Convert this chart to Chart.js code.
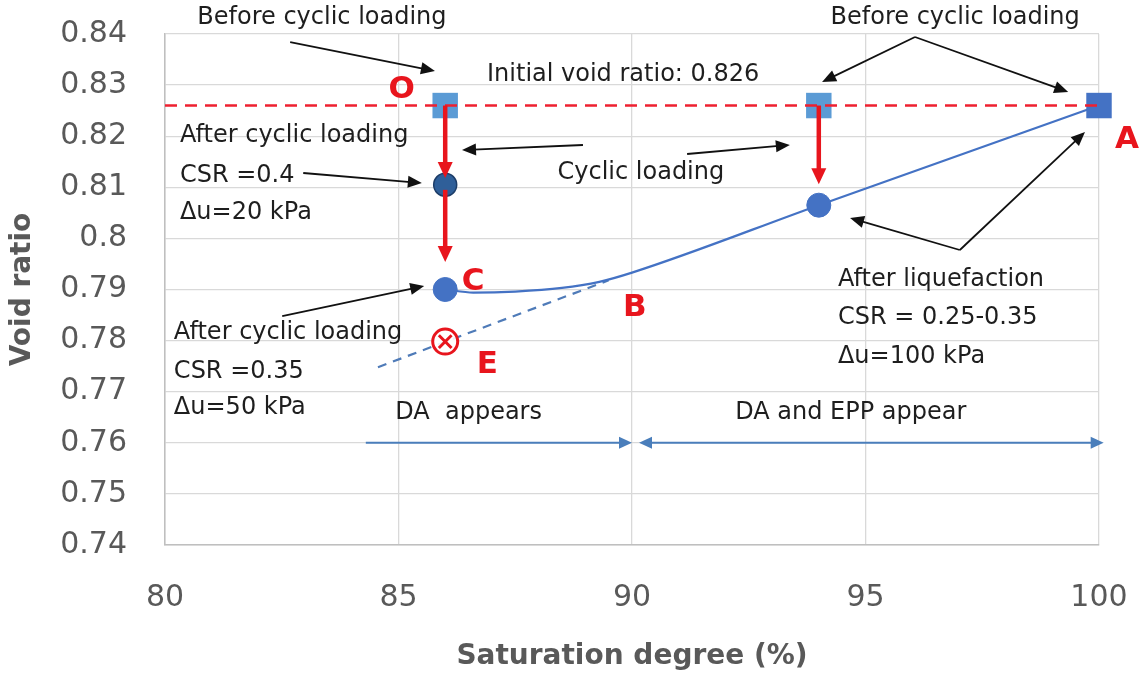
<!DOCTYPE html>
<html><head><meta charset="utf-8">
<script src="https://cdn.jsdelivr.net/npm/chart.js@4.4.0/dist/chart.umd.min.js"></script>
<style>html,body{margin:0;padding:0;background:#fff}</style>
</head><body>
<canvas id="c" width="1140" height="674" style="width:1140px;height:674px;display:block"></canvas>
<script>
// ---------- data ----------
const xTicks = [80, 85, 90, 95, 100];
const yTicks = [0.74, 0.75, 0.76, 0.77, 0.78, 0.79, 0.80, 0.81, 0.82, 0.83, 0.84];
const initialLineX = [80, 100];
const initialLineY = [0.826, 0.826];
const beforeX = [86, 94];
const beforeY = [0.826, 0.826];
const pointAX = [100];
const pointAY = [0.826];
const csr04X = [86];
const csr04Y = [0.8105];
const afterX = [86, 94];
const afterY = [0.790, 0.8065];
const pointEX = [86];
const pointEY = [0.7798];
const curveX = [86, 86.6, 87.5, 88.5, 89.3, 90, 94, 100];
const curveY = [0.7900, 0.7894, 0.7896, 0.7903, 0.7915, 0.7933, 0.8065, 0.826];
const dashX = [84.56, 89.5];
const dashY = [0.7748, 0.7918];
// red loading arrows [x1,y1,x2,y2]
const redArrows = [[86, 0.826, 86, 0.8118], [86, 0.8095, 86, 0.7954], [94, 0.826, 94, 0.8106]];
// blue range arrows [x1,y1,x2,y2, doubleHead]
const rangeArrows = [[84.3, 0.76, 90.0, 0.76, 0], [100.1, 0.76, 90.15, 0.76, 1]];
// black annotation arrows [x1,y1,x2,y2]
const noteArrows = [
  [82.68, 0.83843, 85.78, 0.83276],
  [96.06, 0.83941, 94.07, 0.83061],
  [96.06, 0.83941, 99.34, 0.82865],
  [88.95, 0.81828, 86.36, 0.81730],
  [91.18, 0.81652, 93.38, 0.81828],
  [82.96, 0.81280, 85.50, 0.81084],
  [82.51, 0.78481, 85.55, 0.79069],
  [97.02, 0.79773, 94.67, 0.80400],
  [97.02, 0.79773, 99.70, 0.82082]
];
// texts [text, x, y, align]
const noteTexts = [
  ['Before cyclic loading', 83.36, 0.84313, 'center'],
  ['Before cyclic loading', 96.92, 0.84313, 'center'],
  ['Initial void ratio: 0.826', 89.81, 0.83198, 'center'],
  ['Cyclic loading', 90.19, 0.81280, 'center'],
  ['After cyclic loading', 80.32, 0.82000, 'left'],
  ['CSR =0.4', 80.32, 0.81222, 'left'],
  ['\u0394u=20 kPa', 80.32, 0.80497, 'left'],
  ['After cyclic loading', 80.19, 0.78149, 'left'],
  ['CSR =0.35', 80.19, 0.77386, 'left'],
  ['\u0394u=50 kPa', 80.19, 0.76681, 'left'],
  ['After liquefaction', 94.41, 0.79186, 'left'],
  ['CSR = 0.25-0.35', 94.41, 0.78442, 'left'],
  ['\u0394u=100 kPa', 94.41, 0.77679, 'left'],
  ['DA  appears', 84.93, 0.76583, 'left'],
  ['DA and EPP appear', 92.21, 0.76583, 'left']
];
const pointLabels = [
  ['O', 85.07, 0.82904], ['A', 100.6, 0.81926], ['C', 86.6, 0.79147],
  ['B', 90.06, 0.78638], ['E', 86.9, 0.77522]
];

const pts = (xs, ys) => xs.map((v, i) => ({x: v, y: ys[i]}));
const FONT = '"DejaVu Sans", sans-serif';

function drawArrow(ctx, x1, y1, x2, y2, color, lw, hl, hw, both) {
  const a = Math.atan2(y2 - y1, x2 - x1);
  const ca = Math.cos(a), sa = Math.sin(a);
  ctx.strokeStyle = color; ctx.fillStyle = color; ctx.lineWidth = lw;
  ctx.beginPath();
  ctx.moveTo(both ? x1 + ca * hl * 0.8 : x1, both ? y1 + sa * hl * 0.8 : y1);
  ctx.lineTo(x2 - ca * hl * 0.8, y2 - sa * hl * 0.8);
  ctx.stroke();
  const head = (tx, ty, c, s) => {
    ctx.beginPath();
    ctx.moveTo(tx, ty);
    ctx.lineTo(tx - c * hl - s * hw, ty - s * hl + c * hw);
    ctx.lineTo(tx - c * hl + s * hw, ty - s * hl - c * hw);
    ctx.closePath(); ctx.fill();
  };
  head(x2, y2, ca, sa);
  if (both) head(x1, y1, -ca, -sa);
}

const annot = {
  id: 'annot',
  afterDatasetsDraw(chart) {
    const {ctx, scales: {x, y}} = chart;
    const X = v => x.getPixelForValue(v), Y = v => y.getPixelForValue(v);
    ctx.save();
    rangeArrows.forEach(a => drawArrow(ctx, X(a[0]), Y(a[1]), X(a[2]), Y(a[3]), '#4a7ebb', 2, 13, 6, a[4]));
    redArrows.forEach(a => drawArrow(ctx, X(a[0]), Y(a[1]), X(a[2]), Y(a[3]), '#e8151d', 4.5, 16, 7.5, 0));
    noteArrows.forEach(a => drawArrow(ctx, X(a[0]), Y(a[1]), X(a[2]), Y(a[3]), '#111111', 1.8, 14, 6, 0));
    ctx.font = '24px ' + FONT;
    ctx.fillStyle = '#1e1e1e';
    ctx.textBaseline = 'middle';
    noteTexts.forEach(t => { ctx.textAlign = t[3]; ctx.fillText(t[0], X(t[1]), Y(t[2])); });
    ctx.font = 'bold 31px ' + FONT;
    ctx.fillStyle = '#e8151d';
    ctx.textAlign = 'center';
    pointLabels.forEach(t => ctx.fillText(t[0], X(t[1]), Y(t[2])));
    ctx.restore();
  }
};

const zeroPad = s => { s.paddingTop = 0; s.paddingBottom = 0; s.paddingLeft = 0; s.paddingRight = 0; };

new Chart(document.getElementById('c'), {
  type: 'scatter',
  data: {
    datasets: [
      {data: pts(initialLineX, initialLineY), showLine: true, borderColor: '#ee2030', borderWidth: 2.5,
       borderDash: [12, 8], pointRadius: 0, order: 1, clip: false},
      {data: pts(beforeX, beforeY), pointStyle: 'rect', pointRadius: 18, backgroundColor: '#5b9bd5',
       borderColor: '#5b9bd5', borderWidth: 0, order: 5, clip: false},
      {data: pts(pointAX, pointAY), pointStyle: 'rect', pointRadius: 18, backgroundColor: '#4472c4',
       borderColor: '#4472c4', borderWidth: 0, order: 5, clip: false},
      {data: pts(curveX, curveY), showLine: true, borderColor: '#4472c4', borderWidth: 2.2,
       cubicInterpolationMode: 'monotone', pointRadius: 0, order: 6, clip: false},
      {data: pts(dashX, dashY), showLine: true, borderColor: '#4f7bb8', borderWidth: 2.2,
       borderDash: [9, 7], pointRadius: 0, order: 6},
      {data: pts(csr04X, csr04Y), pointStyle: 'circle', pointRadius: 11.5, backgroundColor: '#2f5f99',
       borderColor: '#1d3d68', borderWidth: 1.5, order: 3},
      {data: pts(afterX, afterY), pointStyle: 'circle', pointRadius: 12, backgroundColor: '#4472c4',
       borderColor: '#4472c4', borderWidth: 1, order: 3},
      {data: pts(pointEX, pointEY), pointStyle: 'circle', pointRadius: 12.5, backgroundColor: 'rgba(255,255,255,0.9)',
       borderColor: '#e8151d', borderWidth: 3, order: 3},
      {data: pts(pointEX, pointEY), pointStyle: 'crossRot', pointRadius: 9, borderColor: '#e8151d',
       borderWidth: 3, order: 2}
    ]
  },
  options: {
    responsive: false,
    animation: false,
    devicePixelRatio: 1,
    layout: {padding: {left: 0, top: 34, right: 41, bottom: 0}},
    plugins: {legend: {display: false}, tooltip: {enabled: false}},
    scales: {
      x: {
        type: 'linear', min: 80, max: 100,
        afterBuildTicks: s => { s.ticks = xTicks.map(v => ({value: v})); },
        afterFit: s => { s.height = 129; zeroPad(s); },
        ticks: {padding: 35, color: '#595959', font: {family: FONT, size: 30},
                callback: v => String(v)},
        grid: {color: '#d9d9d9', lineWidth: 1.3, drawTicks: false},
        border: {color: '#bfbfbf', width: 1.5},
        title: {display: true, text: 'Saturation degree (%)', color: '#595959',
                font: {family: FONT, size: 28, weight: 'bold'}, padding: {top: 0, bottom: 0}}
      },
      y: {
        type: 'linear', min: 0.74, max: 0.84,
        afterBuildTicks: s => { s.ticks = yTicks.map(v => ({value: v})); },
        afterFit: s => { s.width = 165; zeroPad(s); },
        ticks: {padding: 38, color: '#595959', font: {family: FONT, size: 30},
                callback: v => String(Number(v.toFixed(2)))},
        grid: {color: '#d9d9d9', lineWidth: 1.3, drawTicks: false},
        border: {color: '#bfbfbf', width: 1.5},
        title: {display: true, text: 'Void ratio', color: '#595959',
                font: {family: FONT, size: 28, weight: 'bold'}, padding: {top: 6, bottom: 0}}
      }
    }
  },
  plugins: [annot]
});
</script>
</body></html>
